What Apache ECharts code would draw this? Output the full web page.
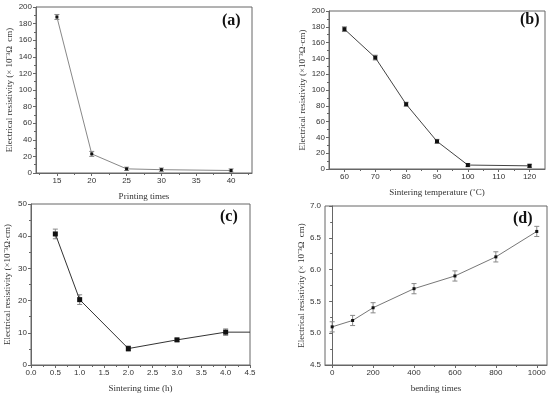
<!DOCTYPE html>
<html><head><meta charset="utf-8">
<script src="https://cdn.jsdelivr.net/npm/echarts@6/dist/echarts.min.js"></script>
<style>html,body{margin:0;padding:0;background:#fff}#c{width:550px;height:394px}</style>
</head><body><div id="c"></div>
<script>
// Panel (a)
const aX = [15, 20, 25, 30, 40];
const aY = [188, 23, 5, 4, 3];
const aErr = [3, 3, 2, 2, 2];
const aTicks = [15, 20, 25, 30, 35, 40];
const aMinor = [12.5, 17.5, 22.5, 27.5, 32.5, 37.5, 42.5];
// Panel (b)
const bX = [60, 70, 80, 90, 100, 120];
const bY = [177, 141, 82, 35, 5, 4];
const bErr = [3, 3, 2.5, 2.5, 2, 2];
const bTicks = [60, 70, 80, 90, 100, 110, 120];
const bMinor = [65, 75, 85, 95, 105, 115];
// Panel (c)
const cX = [0.5, 1.0, 2.0, 3.0, 4.0, 4.5];
const cY = [40.7, 20.3, 5.1, 7.8, 10.2, 10.2];
const cErr = [1.5, 1.5, 0.8, 0.5, 1.0, 0];
// Panel (d)
const dX = [0, 100, 200, 400, 600, 800, 1000];
const dY = [5.1, 5.2, 5.4, 5.7, 5.9, 6.2, 6.6];
const dErr = [0.08, 0.08, 0.08, 0.08, 0.08, 0.08, 0.08];
const dTicks = [0, 200, 400, 600, 800, 1000];
const dMinor = [100, 300, 500, 700, 900];

const serif = 'Liberation Serif';
const sans = 'Liberation Sans';
const axisCol = '#666';
const labelStyle = {fontFamily: sans, fontSize: 8, color: '#333', margin: 4};

const grids = [
  {left: 36, top: 7, width: 216, height: 166},
  {left: 329, top: 11, width: 216, height: 158},
  {left: 31, top: 204, width: 219, height: 162},
  {left: 325, top: 206, width: 222, height: 162}
].map(g => Object.assign(g, {show: true, borderColor: axisCol, borderWidth: 1, backgroundColor: 'transparent'}));

function mainX(i, name, min, max, opts) {
  return Object.assign({
    type: 'value', gridIndex: i, position: 'bottom', min: min, max: max,
    name: name, nameLocation: 'middle', nameGap: 19,
    nameTextStyle: {fontFamily: serif, fontSize: 9, color: '#333'},
    axisLine: {show: true, lineStyle: {color: axisCol}},
    axisTick: {show: true, inside: false, length: 3, lineStyle: {color: axisCol}},
    axisLabel: Object.assign({}, labelStyle),
    splitLine: {show: false}
  }, opts || {});
}
function minorX(i, min, max, vals) {
  return {
    type: 'value', gridIndex: i, position: 'bottom', min: min, max: max,
    axisLine: {show: false}, axisLabel: {show: false}, splitLine: {show: false},
    axisTick: {show: true, length: 2, customValues: vals, lineStyle: {color: axisCol}}
  };
}
function mainY(i, name, min, max, interval, gap, fmt) {
  return {
    type: 'value', gridIndex: i, min: min, max: max, interval: interval,
    name: name, nameLocation: 'middle', nameGap: gap,
    nameTextStyle: {fontFamily: serif, fontSize: 9, color: '#333'},
    axisLine: {show: true, lineStyle: {color: axisCol}},
    axisTick: {show: true, length: 3, lineStyle: {color: axisCol}},
    minorTick: {show: true, splitNumber: 2, length: 2, lineStyle: {color: axisCol}},
    axisLabel: Object.assign({}, labelStyle, fmt ? {formatter: fmt} : {}),
    splitLine: {show: false}
  };
}
const plain = v => String(v);

const xAxis = [
  mainX(0, 'Printing times', 12, 43, {axisLabel: Object.assign({}, labelStyle, {customValues: aTicks, formatter: plain}), axisTick: {show: true, length: 3, customValues: aTicks, lineStyle: {color: axisCol}}}),
  mainX(1, 'Sintering temperature (˚C)', 55, 125, {axisLabel: Object.assign({}, labelStyle, {customValues: bTicks, formatter: plain}), axisTick: {show: true, length: 3, customValues: bTicks, lineStyle: {color: axisCol}}}),
  mainX(2, 'Sintering time (h)', 0, 4.5, {interval: 0.5, axisLabel: Object.assign({}, labelStyle, {formatter: v => v.toFixed(1)}), minorTick: {show: true, splitNumber: 2, length: 2, lineStyle: {color: axisCol}}}),
  mainX(3, 'bending times', -35, 1050, {axisLabel: Object.assign({}, labelStyle, {customValues: dTicks, formatter: plain}), axisTick: {show: true, length: 3, customValues: dTicks, lineStyle: {color: axisCol}}}),
  minorX(0, 12, 43, aMinor),
  minorX(1, 55, 125, bMinor),
  minorX(3, -35, 1050, dMinor)
];
const yAxis = [
  mainY(0, 'Electrical resistivity (× 10⁻³Ω  cm)', 0, 200, 20, 22, plain),
  mainY(1, 'Electrical resistivity (×10⁻³Ω·cm)', 0, 200, 20, 22, plain),
  mainY(2, 'Electrical resistivity (×10⁻³Ω·cm)', 0, 50, 10, 19, plain),
  mainY(3, 'Electrical resistivity (× 10⁻³Ω  cm)', 4.5, 7.0, 0.5, 18, v => v.toFixed(1))
];

function lineSeries(i, xs, ys, color, symSize, noSymLast) {
  return {
    type: 'line', xAxisIndex: i, yAxisIndex: i, animation: false,
    data: xs.map((x, k) => {
      const item = {value: [x, ys[k]]};
      if (noSymLast && k === xs.length - 1) item.symbol = 'none';
      return item;
    }),
    symbol: 'rect', symbolSize: symSize,
    itemStyle: {color: '#111'},
    lineStyle: {color: color, width: 1}
  };
}
function errSeries(i, xs, ys, errs) {
  return {
    type: 'custom', xAxisIndex: i, yAxisIndex: i, animation: false, z: 1,
    data: xs.map((x, k) => [x, ys[k] - errs[k], ys[k] + errs[k]]).filter((d, k) => errs[k] > 0),
    renderItem: function (params, api) {
      const lo = api.coord([api.value(0), api.value(1)]);
      const hi = api.coord([api.value(0), api.value(2)]);
      const w = 2.5;
      const st = {stroke: '#888', lineWidth: 1};
      return {type: 'group', children: [
        {type: 'line', shape: {x1: lo[0], y1: lo[1], x2: hi[0], y2: hi[1]}, style: st},
        {type: 'line', shape: {x1: lo[0] - w, y1: lo[1], x2: lo[0] + w, y2: lo[1]}, style: st},
        {type: 'line', shape: {x1: hi[0] - w, y1: hi[1], x2: hi[0] + w, y2: hi[1]}, style: st}
      ]};
    }
  };
}

const option = {
  backgroundColor: '#fff',
  animation: false,
  grid: grids,
  xAxis: xAxis,
  yAxis: yAxis,
  series: [
    errSeries(0, aX, aY, aErr), lineSeries(0, aX, aY, '#888', 3),
    errSeries(1, bX, bY, bErr), lineSeries(1, bX, bY, '#444', 4),
    errSeries(2, cX, cY, cErr), lineSeries(2, cX, cY, '#333', 5, true),
    errSeries(3, dX, dY, dErr), lineSeries(3, dX, dY, '#777', 3)
  ],
  graphic: [
    {type: 'text', left: 222, top: 13, style: {text: '(a)', font: 'bold 16px "Liberation Serif"', fill: '#111'}},
    {type: 'text', left: 520, top: 12, style: {text: '(b)', font: 'bold 16px "Liberation Serif"', fill: '#111'}},
    {type: 'text', left: 220, top: 209, style: {text: '(c)', font: 'bold 16px "Liberation Serif"', fill: '#111'}},
    {type: 'text', left: 513, top: 211, style: {text: '(d)', font: 'bold 16px "Liberation Serif"', fill: '#111'}}
  ]
};
const chart = echarts.init(document.getElementById('c'), null, {renderer: 'canvas'});
chart.setOption(option);
</script></body></html>
